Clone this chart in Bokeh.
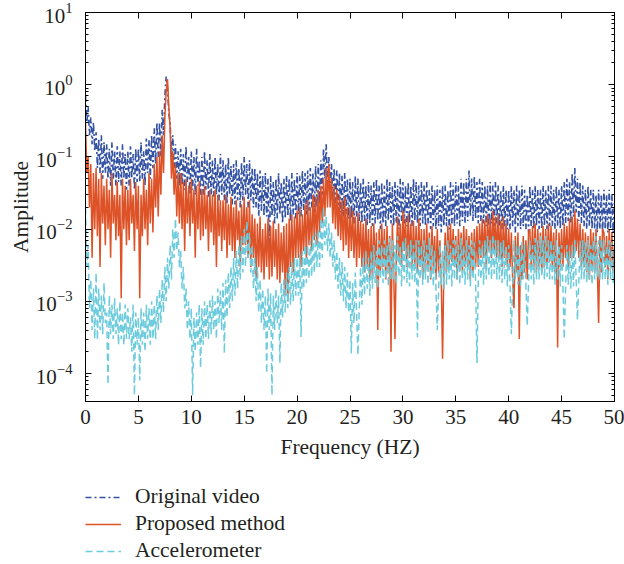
from bokeh.plotting import figure
from bokeh.layouts import column
from bokeh.models import (Range1d, LinearAxis, LogAxis, FixedTicker, Legend, LegendItem,
                          LogTicker)
from bokeh.embed import file_html
from bokeh.resources import INLINE

freq_step = 0.125  # Hz between samples
original_video = [
    .7, .3, .5, .2, .35, .15, .3, .12,
    .22, .07, .18, .06, .2, .05, .16, .06,
    .15, .05, .13, .04, .16, .05, .12, .04,
    .14, .045, .12, .04, .15, .05, .11, .035,
    .12, .04, .14, .05, .11, .035, .13, .045,
    .13, .045, .16, .05, .12, .04, .18, .06,
    .17, .05, .2, .07, .25, .08, .3, .1,
    .3, .1, .45, .2, .7, 1.3, .9, .4,
    .3, .1, .2, .07, .15, .05, .12, .04,
    .13, .04, .11, .035, .14, .045, .1, .03,
    .12, .035, .1, .03, .13, .04, .09, .03,
    .1, .03, .12, .035, .09, .028, .11, .03,
    .09, .028, .1, .03, .08, .025, .11, .03,
    .09, .025, .08, .022, .1, .03, .075, .022,
    .08, .022, .09, .025, .07, .02, .085, .025,
    .1, .03, .08, .02, .09, .025, .07, .02,
    .07, .02, .06, .015, .065, .018, .055, .015,
    .06, .015, .05, .004, .055, .015, .045, .012,
    .05, .014, .06, .016, .045, .012, .05, .014,
    .055, .015, .05, .013, .06, .016, .05, .014,
    .06, .016, .055, .015, .065, .018, .06, .016,
    .065, .018, .07, .02, .06, .017, .075, .02,
    .08, .022, .09, .03, .13, .05, .15, .04,
    .1, .03, .08, .025, .07, .02, .065, .018,
    .06, .017, .055, .015, .06, .016, .05, .014,
    .05, .014, .045, .012, .055, .015, .05, .013,
    .045, .012, .05, .013, .04, .011, .045, .012,
    .04, .011, .045, .012, .05, .013, .04, .01,
    .045, .012, .04, .011, .05, .013, .045, .012,
    .04, .011, .045, .012, .04, .01, .05, .013,
    .045, .012, .04, .011, .045, .012, .04, .011,
    .05, .013, .045, .012, .04, .011, .045, .012,
    .04, .011, .045, .012, .035, .01, .04, .011,
    .035, .01, .04, .011, .035, .009, .04, .011,
    .04, .011, .035, .01, .045, .012, .04, .011,
    .045, .012, .04, .011, .05, .013, .045, .012,
    .05, .013, .065, .015, .05, .013, .055, .014,
    .045, .012, .05, .013, .045, .012, .04, .011,
    .04, .011, .045, .012, .04, .011, .045, .012,
    .04, .011, .035, .01, .04, .011, .035, .01,
    .035, .01, .04, .011, .035, .009, .04, .011,
    .035, .01, .04, .011, .035, .01, .03, .009,
    .04, .011, .035, .01, .04, .011, .035, .01,
    .035, .01, .04, .011, .035, .01, .04, .011,
    .04, .011, .035, .01, .04, .011, .035, .01,
    .04, .011, .045, .012, .05, .013, .045, .012,
    .06, .015, .07, .017, .05, .013, .045, .012,
    .04, .011, .035, .01, .04, .011, .035, .01,
    .035, .01, .03, .009, .035, .01, .03, .009,
    .035, .01, .03, .009, .035, .01, .03, .009,
    .025,
]
proposed_method = [
    .3, .06, .1, .02, .08, .004, .06, .01,
    .07, .008, .05, .003, .06, .012, .04, .006,
    .05, .01, .035, .004, .06, .012, .03, .007,
    .045, .008, .03, .0011, .05, .01, .04, .006,
    .035, .007, .05, .012, .03, .005, .045, .01,
    .04, .0011, .03, .008, .05, .01, .035, .006,
    .06, .012, .05, .009, .08, .02, .1, .015,
    .12, .03, .2, .06, .35, .8, 1.2, .5,
    .25, .05, .12, .03, .08, .015, .06, .012,
    .06, .01, .045, .005, .05, .012, .04, .008,
    .05, .012, .035, .004, .04, .01, .045, .007,
    .035, .008, .04, .01, .03, .005, .035, .009,
    .03, .006, .035, .003, .03, .008, .025, .005,
    .025, .007, .03, .004, .022, .006, .028, .005,
    .02, .004, .025, .007, .018, .003, .022, .006,
    .028, .006, .02, .004, .025, .003, .016, .004,
    .014, .002, .012, .003, .015, .0025, .01, .002,
    .012, .003, .014, .002, .011, .0022, .013, .003,
    .01, .002, .012, .0018, .009, .0025, .011, .0012,
    .012, .001, .014, .003, .016, .0025, .015, .004,
    .018, .004, .02, .003, .016, .005, .022, .004,
    .025, .006, .02, .005, .03, .007, .028, .006,
    .035, .009, .04, .012, .05, .015, .07, .02,
    .08, .02, .05, .012, .04, .01, .035, .008,
    .03, .007, .025, .005, .028, .006, .02, .004,
    .02, .005, .018, .004, .015, .003, .017, .004,
    .013, .003, .012, .0025, .014, .003, .01, .002,
    .011, .002, .012, .003, .009, .0004, .01, .0025,
    .012, .003, .01, .002, .011, .0025, .008, .0002,
    .012, .003, .0003, .004, .015, .004, .012, .003,
    .018, .005, .014, .003, .016, .004, .012, .003,
    .013, .003, .011, .0025, .014, .003, .01, .002,
    .01, .0025, .012, .003, .009, .002, .011, .003,
    .008, .002, .01, .0025, .007, .002, .00016, .003,
    .009, .0025, .011, .003, .012, .0035, .01, .003,
    .008, .002, .01, .003, .009, .0025, .011, .003,
    .01, .003, .008, .002, .009, .0025, .01, .003,
    .011, .003, .012, .004, .014, .004, .013, .003,
    .016, .005, .014, .004, .018, .005, .015, .004,
    .016, .004, .013, .003, .015, .004, .012, .003,
    .01, .003, .009, .002, .0008, .008, .0025, .009,
    .0003, .006, .002, .008, .0025, .007, .002, .009,
    .01, .003, .011, .003, .012, .0025, .01, .003,
    .009, .0025, .011, .003, .01, .003, .012, .0035,
    .011, .003, .009, .0025, .01, .00023, .009, .003,
    .01, .003, .012, .004, .011, .003, .014, .004,
    .015, .004, .018, .005, .014, .004, .012, .003,
    .01, .003, .009, .0025, .008, .002, .01, .003,
    .009, .0025, .01, .003, .0005, .008, .0025, .01,
    .009, .003, .008, .002, .01, .003, .009, .0025,
    .006,
]
accelerometer = [
    .02, .003, .006, .0008, .002, .0004, .0015, .0003,
    .0025, .00029, .0015, .0004, .0012, .00035, .0018, .0005,
    .0007, .00007, .0012, .00035, .0009, .0003, .0011, .00035,
    .0008, .00025, .001, .0003, .0007, .00025, .0009, .0003,
    .0008, .0003, .0006, .0002, .0009, .00005, .0007, .00025,
    .0006, .00008, .0008, .00025, .0007, .0002, .0009, .0003,
    .0008, .00025, .001, .0003, .0009, .0003, .0012, .0004,
    .0015, .0005, .002, .0007, .003, .001, .004, .0015,
    .006, .002, .01, .004, .014, .005, .009, .003,
    .005, .0015, .003, .0008, .0015, .0004, .001, .0003,
    .0008, .00005, .0006, .0002, .0007, .00025, .0009, .00012,
    .0008, .00025, .001, .0003, .0009, .0003, .0011, .00035,
    .0012, .0004, .001, .0003, .0015, .0005, .0014, .0004,
    .0018, .00019, .002, .0006, .0025, .0008, .003, .001,
    .004, .0012, .005, .0015, .006, .002, .008, .0025,
    .01, .003, .013, .004, .009, .0025, .006, .0015,
    .004, .001, .003, .0007, .002, .0005, .0015, .0004,
    .0012, .0001, .0015, .0004, .0013, .00005, .0012, .0004,
    .0015, .0005, .0012, .00014, .0018, .0006, .002, .0007,
    .0025, .0008, .003, .0009, .0035, .001, .004, .0012,
    .004, .0012, .0045, .00032, .005, .0015, .006, .0018,
    .006, .002, .007, .0022, .008, .0025, .009, .003,
    .01, .003, .014, .004, .02, .006, .015, .005,
    .012, .004, .009, .003, .007, .002, .005, .0015,
    .004, .0012, .0035, .001, .003, .0008, .0025, .0007,
    .002, .00019, .0018, .0005, .0025, .0007, .00018, .0008,
    .003, .0009, .004, .0012, .005, .0015, .004, .0012,
    .005, .0015, .006, .0018, .005, .0015, .007, .002,
    .006, .0018, .007, .002, .006, .0016, .0075, .002,
    .007, .002, .006, .0017, .008, .0022, .006, .0016,
    .007, .002, .0075, .0018, .006, .0016, .007, .002,
    .006, .0018, .007, .00032, .007, .002, .006, .0017,
    .007, .002, .006, .0017, .0075, .002, .006, .0016,
    .005, .0015, .0004, .0014, .006, .0017, .005, .0015,
    .006, .0017, .007, .002, .006, .0016, .007, .002,
    .007, .002, .006, .0017, .0075, .002, .006, .0017,
    .007, .002, .006, .0016, .007, .002, .0065, .0018,
    .00014, .0018, .007, .002, .006, .0017, .007, .002,
    .008, .0022, .007, .002, .0085, .0024, .007, .002,
    .007, .002, .0065, .0018, .007, .002, .006, .0016,
    .006, .0017, .00035, .0016, .007, .002, .006, .0017,
    .006, .0016, .007, .002, .006, .0017, .00046, .0018,
    .007, .002, .006, .0017, .0075, .002, .007, .002,
    .008, .0022, .007, .002, .008, .0022, .007, .002,
    .007, .002, .006, .0017, .007, .002, .006, .0016,
    .006, .0016, .0003, .0015, .006, .0017, .005, .0015,
    .006, .0016, .007, .002, .00055, .0018, .007, .002,
    .007, .002, .0065, .0018, .007, .002, .006, .0017,
    .007, .002, .008, .0022, .007, .002, .0075, .002,
    .007, .002, .006, .0017, .007, .002, .0065, .0018,
    .005,
]
x_ticks = [0, 5, 10, 15, 20, 25, 30, 35, 40, 45, 50]
series_names = ["Original video", "Proposed method", "Accelerometer"]

freqs_o = [i * freq_step for i in range(len(original_video))]
freqs_p = [i * freq_step for i in range(len(proposed_method))]
freqs_a = [i * freq_step for i in range(len(accelerometer))]

FONT = "Liberation Serif"
TXT = "#231f20"
BLUE = "#3352A3"
ORANGE = "#DD5227"
CYAN = "#6CCBDC"
STYLES = [dict(color=BLUE, line_width=1.6, line_dash="6 3 2 3"),
          dict(color=ORANGE, line_width=1.5),
          dict(color=CYAN, line_width=1.5, line_dash="7 4")]

p = figure(width=624, height=470, y_axis_type="log",
           x_range=Range1d(0, 50), y_range=Range1d(4.1e-5, 10),
           output_backend="svg", toolbar_location=None,
           min_border_left=85, min_border_right=10, min_border_top=12, min_border_bottom=69)
p.xgrid.visible = False
p.ygrid.visible = False
p.outline_line_color = "black"
p.outline_line_width = 1
p.background_fill_color = "white"
p.border_fill_color = "white"

p.line(freqs_o, original_video, **STYLES[0])
p.line(freqs_p, proposed_method, **STYLES[1])
p.line(freqs_a, accelerometer, **STYLES[2])

xa = p.xaxis[0]
xa.ticker = FixedTicker(ticks=x_ticks)
xa.axis_label = "Frequency (HZ)"
ya = p.yaxis[0]
ya.axis_label = "Amplitude"
ya.ticker = LogTicker(num_minor_ticks=10)

for ax in (xa, ya):
    ax.axis_label_text_font = FONT
    ax.axis_label_text_font_style = "normal"
    ax.axis_label_text_font_size = "21.5px"
    ax.axis_label_text_color = TXT
    ax.major_label_text_font = FONT
    ax.major_label_text_font_size = "21px"
    ax.major_label_text_color = TXT
    ax.major_tick_in = 6
    ax.major_tick_out = 0
    ax.minor_tick_in = 3
    ax.minor_tick_out = 0
    ax.axis_line_color = "black"
    ax.major_tick_line_color = "black"
    ax.minor_tick_line_color = "black"
xa.minor_tick_line_color = None
xa.major_label_standoff = 8
xa.axis_label_standoff = 8
ya.major_label_standoff = 13
ya.axis_label_standoff = 0

top = LinearAxis(ticker=FixedTicker(ticks=x_ticks), major_label_text_font_size="0px",
                 major_tick_in=6, major_tick_out=0, minor_tick_line_color=None,
                 axis_line_color="black", major_label_text_color=None)
right = LogAxis(ticker=LogTicker(num_minor_ticks=10), major_label_text_font_size="0px",
                major_tick_in=6, major_tick_out=0, minor_tick_in=3, minor_tick_out=0,
                axis_line_color="black", major_label_text_color=None)
p.add_layout(top, "above")
p.add_layout(right, "right")

# legend panel below the chart (its frame is aligned with the chart's frame)
lg = figure(width=624, height=94, x_range=Range1d(0, 1), y_range=Range1d(0, 1),
            output_backend="svg", toolbar_location=None,
            x_axis_location=None, y_axis_location=None,
            min_border_left=0, min_border_right=0, min_border_top=0, min_border_bottom=0)
lg.outline_line_color = None
lg.xgrid.visible = False
lg.ygrid.visible = False
lg.border_fill_color = "white"
items = []
for name, st in zip(series_names, STYLES):
    rr = lg.line([-2, -1], [-2, -2], **st)  # off-range sample, only for the key
    items.append(LegendItem(label=name, renderers=[rr]))
legend = Legend(items=items, location=(0, 1), orientation="vertical",
                label_text_font=FONT, label_text_font_size="21.5px", label_text_color=TXT,
                glyph_width=36, glyph_height=24, label_height=24, label_standoff=14,
                spacing=2, padding=0, margin=0,
                border_line_color=None, background_fill_alpha=0)
lg.add_layout(legend, "center")

open("out.html", "w").write(file_html(column(p, lg, spacing=0), INLINE))
